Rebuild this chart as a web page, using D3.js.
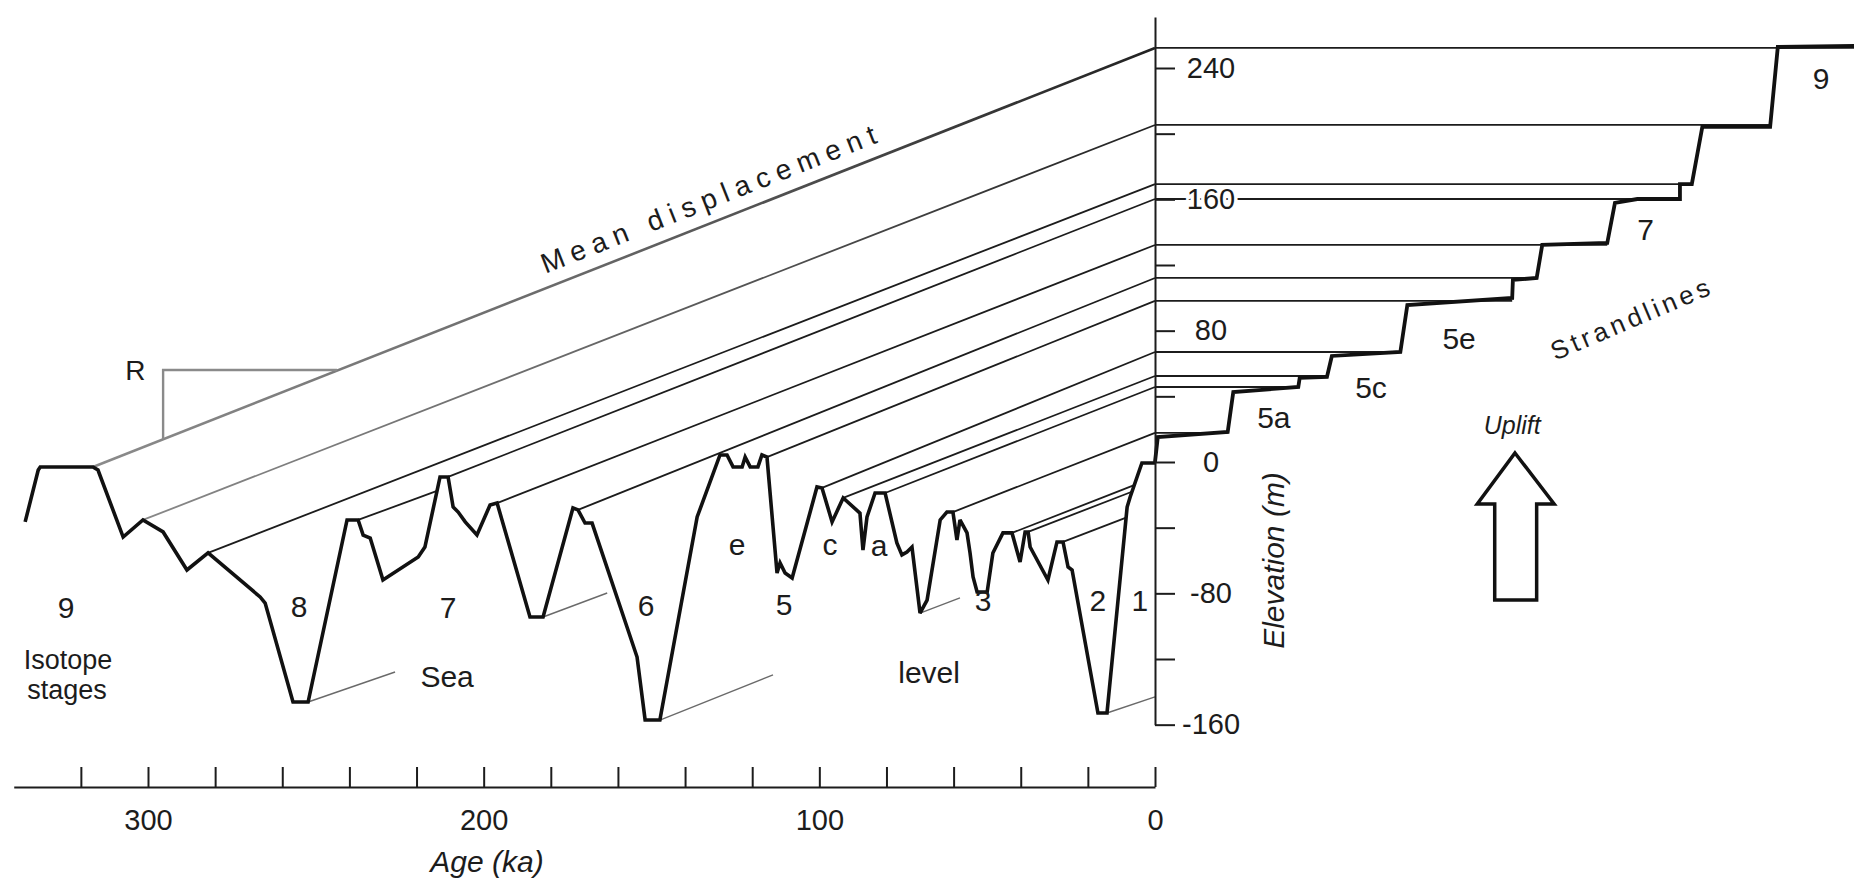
<!DOCTYPE html>
<html><head><meta charset="utf-8">
<script src="https://cdn.jsdelivr.net/npm/d3@7"></script>
<style>
html,body{margin:0;padding:0;background:#fff;}
svg{display:block;}
text{font-family:"Liberation Sans", Arial, Helvetica, sans-serif; fill:#1c1c1c;}
</style></head><body>
<svg id="chart" width="1854" height="882"></svg>
<script>
// ---------------- DATA ----------------
// Sea-level curve (age ka, sea level m)
const slAge = [336.6, 332.7, 332.1, 316.4, 314.9, 307.4, 301.5, 295.5, 288.4, 282.1, 266.6, 265.1, 256.8, 252.3, 240.7, 237.4, 235.9, 233.8, 230.0, 219.5, 217.5, 213.0, 210.6, 209.1, 207.6, 205.5, 202.0, 198.1, 196.0, 186.2, 182.3, 173.4, 171.9, 169.8, 167.7, 157.3, 154.3, 151.9, 147.5, 136.4, 129.6, 127.5, 125.7, 123.0, 122.1, 120.6, 118.3, 117.1, 115.6, 112.6, 111.7, 110.2, 108.1, 100.7, 99.2, 96.2, 92.9, 87.9, 87.0, 85.8, 83.4, 80.4, 76.9, 75.4, 73.9, 72.4, 70.0, 67.9, 64.0, 62.0, 60.2, 59.0, 58.1, 56.0, 55.1, 54.2, 53.0, 50.0, 48.3, 45.3, 42.6, 40.2, 38.7, 37.8, 37.2, 31.9, 29.2, 27.4, 25.9, 24.7, 17.0, 14.3, 8.3, 7.4, 3.9, 0];
const slLevel = [-36.5, -4.9, -3.0, -3.0, -4.9, -45.7, -35.3, -42.6, -65.8, -55.4, -82.2, -85.9, -146.2, -146.2, -35.3, -35.3, -44.5, -46.3, -71.9, -57.9, -51.8, -9.1, -9.1, -27.4, -30.5, -36.5, -44.5, -26.2, -25.0, -94.4, -94.4, -28.0, -29.2, -37.2, -37.2, -100.5, -118.8, -157.2, -157.2, -33.5, 4.3, 4.3, -3.0, -3.0, 3.0, -3.0, -3.0, 4.3, 3.0, -67.6, -61.5, -67.6, -70.7, -15.2, -15.8, -36.5, -21.9, -31.1, -53.6, -33.5, -18.9, -18.9, -49.3, -56.6, -54.8, -51.8, -92.0, -84.1, -35.3, -30.5, -30.5, -47.5, -35.3, -43.2, -55.4, -70.0, -79.2, -79.2, -55.4, -43.2, -43.2, -60.9, -42.6, -42.6, -51.8, -71.9, -48.7, -48.7, -64.0, -65.8, -152.9, -152.9, -27.4, -21.3, -0.6, -0.6];

// Highstand projection lines reaching present day (start age, start level, present elevation)
const hsAge   = [316.4, 301.5, 282.1, 210.6, 196.0, 171.9, 115.6, 99.2, 92.9, 80.4, 60.2];
const hsLevel = [-3.0, -35.3, -55.4, -9.1, -25.0, -29.2, 3.0, -15.8, -21.9, -18.9, -30.5];
const hsElevNow = [252.2, 205.3, 169.3, 160.2, 132.2, 112.1, 98.1, 67.0, 52.4, 45.7, 17.7];

// Highstand lines cut off by a later sea-level rise (start age, level, end age, level)
const cutAge = [237.4, 42.6, 37.8, 27.4];
const cutLevel = [-35.3, -43.2, -42.6, -48.7];
const cutEndAge = [213.9, 6.2, 6.9, 8.6];
const cutEndLevel = [-17.6, -14.1, -18.1, -33.9];

// Lowstand sea-level lines
const lowAge = [252.3, 182.3, 147.5, 70.0, 14.3];
const lowLevel = [-146.2, -94.4, -157.2, -92.0, -152.9];
const lowEndAge = [226.4, 163.2, 113.8, 58.1, 0];
const lowEndLevel = [-127.9, -79.8, -129.7, -82.8, -143.1];

// Strandlines (present elevation m, seaward extent in relative distance 0-100)
const strandElev = [252.2, 205.3, 169.3, 160.2, 132.2, 112.1, 98.1, 67.0, 52.4, 45.7, 17.7];
const strandEnd  = [100, 88.0, 76.8, 75.1, 64.7, 54.6, 51.1, 35.1, 24.6, 20.5, 10.4];

// Terrace staircase profile (distance, elevation)
const stairDist = [0, 0.4, 10.4, 11.2, 20.5, 20.7, 24.6, 25.3, 35.1, 36.1, 51.1, 51.2, 54.6, 55.4, 64.7, 65.8, 69.0, 75.1, 75.1, 76.8, 78.3, 88.0, 89.1, 100];
const stairElev = [0, 15.2, 18.3, 42.6, 45.7, 51.2, 51.8, 64.6, 67.0, 95.6, 99.9, 110.9, 112.1, 132.2, 133.4, 157.8, 160.2, 160.2, 169.3, 169.3, 204.1, 204.1, 252.8, 253.4];

// "R" bracket on the mean displacement line (age, level)
const rAge = [243.7, 295.5, 295.5];
const rLevel = [56.0, 56.0, 13.9];

// Uplift arrow outline (distance, elevation)
const arrowDist = [51.5, 57.1, 54.6, 54.6, 48.6, 48.6, 46.1];
const arrowElev = [5.5, -25.6, -25.6, -84.1, -84.1, -25.6, -25.6];

// Axis ticks
const ageTicks = [0, 20, 40, 60, 80, 100, 120, 140, 160, 180, 200, 220, 240, 260, 280, 300, 320];
const ageTickLabels = [0, 100, 200, 300];
const elevTicks = [-160, -120, -80, -40, 0, 40, 80, 120, 160, 200, 240];
const elevTickLabels = [-160, -80, 0, 80, 160, 240];

// Stage labels on the sea-level panel
const stageText  = ["9", "8", "7", "6", "e", "5", "c", "a", "3", "2", "1"];
const stageAge   = [324.4, 255.0, 210.6, 151.6, 124.5, 110.5, 96.8, 82.2, 51.2, 17.0, 4.5];
const stageLevel = [-88.3, -87.7, -88.3, -87.1, -49.9, -86.5, -49.9, -50.6, -84.1, -84.1, -84.1];

// Stage labels on the strandline panel
const terraceText = ["9", "7", "5e", "5c", "5a"];
const terraceDist = [95.3, 70.2, 43.5, 30.9, 17.0];
const terraceElev = [233.9, 141.9, 75.5, 45.7, 27.4];

// ---------------- DRAWING ----------------
const svg = d3.select("#chart");
const xAge = d3.scaleLinear().domain([0, 300]).range([1155, 148]);
const yEl = d3.scaleLinear().domain([0, 240]).range([462, 68]);
const xDist = d3.scaleLinear().domain([0, 100]).range([1155, 1854]);
const axisBase = 787;

const ink = "#1c1c1c";

// gradient for faded top lines
const defs = svg.append("defs");
const grad = defs.append("linearGradient").attr("id", "fade")
  .attr("gradientUnits", "userSpaceOnUse")
  .attr("x1", xAge(320)).attr("x2", xAge(0)).attr("y1", 0).attr("y2", 0);
grad.append("stop").attr("offset", "0%").attr("stop-color", "#8c8c8c");
grad.append("stop").attr("offset", "45%").attr("stop-color", "#6a6a6a");
grad.append("stop").attr("offset", "100%").attr("stop-color", "#222");

// projection lines to present day
svg.append("g").selectAll("line").data(d3.range(hsAge.length)).join("line")
  .attr("x1", i => xAge(hsAge[i])).attr("y1", i => yEl(hsLevel[i]))
  .attr("x2", xAge(0)).attr("y2", i => yEl(hsElevNow[i]))
  .attr("stroke", i => i < 2 ? "url(#fade)" : ink)
  .attr("stroke-width", i => i === 0 ? 2.6 : 1.8);

svg.append("g").selectAll("line").data(d3.range(cutAge.length)).join("line")
  .attr("x1", i => xAge(cutAge[i])).attr("y1", i => yEl(cutLevel[i]))
  .attr("x2", i => xAge(cutEndAge[i])).attr("y2", i => yEl(cutEndLevel[i]))
  .attr("stroke", ink).attr("stroke-width", 1.8);

// lowstand lines
svg.append("g").selectAll("line").data(d3.range(lowAge.length)).join("line")
  .attr("x1", i => xAge(lowAge[i])).attr("y1", i => yEl(lowLevel[i]))
  .attr("x2", i => xAge(lowEndAge[i])).attr("y2", i => yEl(lowEndLevel[i]))
  .attr("stroke", "#6a6a6a").attr("stroke-width", 1.4);

// R bracket
svg.append("path")
  .attr("d", d3.line().x((d, i) => xAge(rAge[i])).y((d, i) => yEl(rLevel[i]))(rAge))
  .attr("fill", "none").attr("stroke", "#8a8a8a").attr("stroke-width", 2.4);
svg.append("text").attr("x", xAge(303.8)).attr("y", yEl(56)).attr("dy", "0.36em")
  .attr("text-anchor", "middle").attr("font-size", 28).attr("fill", "#555").text("R");

// strandlines
svg.append("g").selectAll("line").data(d3.range(strandElev.length)).join("line")
  .attr("x1", xDist(0)).attr("x2", i => xDist(strandEnd[i]))
  .attr("y1", i => yEl(strandElev[i])).attr("y2", i => yEl(strandElev[i]))
  .attr("stroke", ink).attr("stroke-width", 1.8);

// sea level curve
svg.append("path")
  .attr("d", d3.line().x((d, i) => xAge(slAge[i])).y((d, i) => yEl(slLevel[i]))(slAge))
  .attr("fill", "none").attr("stroke", "#111").attr("stroke-width", 3.6)
  .attr("stroke-linejoin", "miter").attr("stroke-miterlimit", 3);

// terrace staircase
svg.append("path")
  .attr("d", d3.line().x((d, i) => xDist(stairDist[i])).y((d, i) => yEl(stairElev[i]))(stairDist))
  .attr("fill", "none").attr("stroke", "#111").attr("stroke-width", 3.8)
  .attr("stroke-linejoin", "miter");

// Age axis
const ageAxisScale = xAge.copy().domain([0, 340]).range([xAge(0), xAge(340)]);
const gx = svg.append("g").attr("transform", `translate(0,${axisBase})`)
  .call(d3.axisBottom(ageAxisScale).tickValues(ageTicks)
    .tickFormat(d => ageTickLabels.includes(d) ? d : "")
    .tickSize(-20).tickSizeOuter(0).tickPadding(22));
gx.select(".domain").attr("stroke", ink).attr("stroke-width", 2);
gx.selectAll(".tick line").attr("stroke", ink).attr("stroke-width", 2);
gx.selectAll(".tick text").attr("font-size", 29).attr("fill", ink)
  .attr("font-family", "'Liberation Sans', Arial, sans-serif");
svg.append("text").attr("x", xAge(199)).attr("y", axisBase + 85)
  .attr("text-anchor", "middle").attr("font-size", 30).attr("font-style", "italic")
  .text("Age (ka)");

// Elevation axis
const elAxisScale = yEl.copy().domain([-160, 271]).range([yEl(-160), yEl(271)]);
const gy = svg.append("g").attr("transform", `translate(${xAge(0)},0)`)
  .call(d3.axisRight(elAxisScale).tickValues(elevTicks)
    .tickFormat(d => elevTickLabels.includes(d) ? d : "")
    .tickSize(20).tickSizeOuter(0).tickPadding(36));
gy.select(".domain").attr("stroke", ink).attr("stroke-width", 2);
gy.selectAll(".tick line").attr("stroke", ink).attr("stroke-width", 2);
gy.selectAll(".tick text").attr("font-size", 29).attr("fill", ink)
  .attr("text-anchor", "middle").attr("x", 56)
  .attr("font-family", "'Liberation Sans', Arial, sans-serif")
  .attr("stroke", "#fff").attr("stroke-width", 7).attr("paint-order", "stroke");
svg.append("text")
  .attr("transform", `translate(${xAge(0) + 118},${yEl(-60)}) rotate(-90)`)
  .attr("text-anchor", "middle").attr("dy", "0.35em")
  .attr("font-size", 30).attr("font-style", "italic").text("Elevation (m)");

// Stage labels
svg.append("g").selectAll("text").data(stageText).join("text")
  .attr("x", (d, i) => xAge(stageAge[i])).attr("y", (d, i) => yEl(stageLevel[i]))
  .attr("dy", "0.36em").attr("text-anchor", "middle").attr("font-size", 30).text(d => d);

svg.append("text").attr("x", xAge(323.8)).attr("y", yEl(-120)).attr("dy", "0.36em")
  .attr("text-anchor", "middle").attr("font-size", 27).text("Isotope");
svg.append("text").attr("x", xAge(324.1)).attr("y", yEl(-138.5)).attr("dy", "0.36em")
  .attr("text-anchor", "middle").attr("font-size", 27).text("stages");
svg.append("text").attr("x", xAge(210.9)).attr("y", yEl(-130.4)).attr("dy", "0.36em")
  .attr("text-anchor", "middle").attr("font-size", 30).text("Sea");
svg.append("text").attr("x", xAge(67.3)).attr("y", yEl(-127.9)).attr("dy", "0.36em")
  .attr("text-anchor", "middle").attr("font-size", 30).text("level");

// Mean displacement label along the top line
const ang = Math.atan2(yEl(hsElevNow[0]) - yEl(hsLevel[0]), xAge(0) - xAge(hsAge[0])) * 180 / Math.PI;
svg.append("text")
  .attr("transform", `translate(${xAge(131)},${yEl(155.5)}) rotate(${ang})`)
  .attr("text-anchor", "middle").attr("font-size", 28).attr("letter-spacing", 7.2)
  .text("Mean displacement");

// Terrace labels
svg.append("g").selectAll("text").data(terraceText).join("text")
  .attr("x", (d, i) => xDist(terraceDist[i])).attr("y", (d, i) => yEl(terraceElev[i]))
  .attr("dy", "0.36em").attr("text-anchor", "middle").attr("font-size", 30).text(d => d);

svg.append("text")
  .attr("transform", `translate(${xDist(68.2)},${yEl(87.7)}) rotate(-23)`)
  .attr("text-anchor", "middle").attr("dy", "0.36em")
  .attr("font-size", 26).attr("letter-spacing", 4).text("Strandlines");

// Uplift arrow
svg.append("text").attr("x", xDist(51.1)).attr("y", yEl(22.5)).attr("dy", "0.36em")
  .attr("text-anchor", "middle").attr("font-size", 25).attr("font-style", "italic").text("Uplift");
svg.append("path")
  .attr("d", d3.line().x((d, i) => xDist(arrowDist[i])).y((d, i) => yEl(arrowElev[i]))(arrowDist) + "Z")
  .attr("fill", "#fff").attr("stroke", "#111").attr("stroke-width", 3.5).attr("stroke-linejoin", "miter");
</script>
</body></html>
